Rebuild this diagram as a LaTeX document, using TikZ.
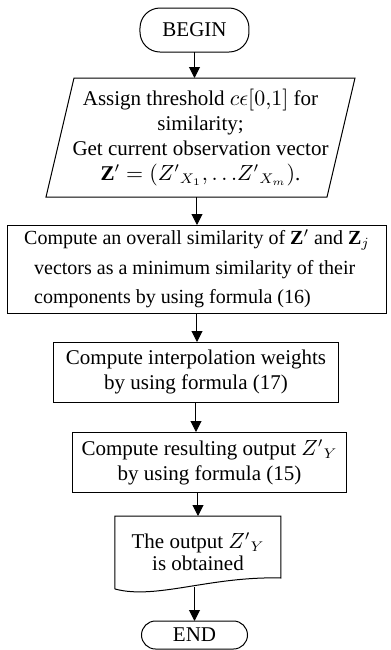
\documentclass[tikz,border=0pt]{standalone}
\usepackage{amsmath, amssymb}
\usepackage{fontspec}
\setmainfont{Liberation Serif}
\usepackage{tikz}
\usetikzlibrary{arrows.meta, positioning}

\begin{document}
\begin{tikzpicture}[node distance=14pt, auto,
    font=\fontsize{10.5pt}{12.5pt}\selectfont,
    line width=0.5pt,
    terminal/.style={rectangle, rounded corners=10pt, draw, inner sep=0pt, outer sep=0pt},
    process/.style={rectangle, draw, inner sep=0pt, outer sep=0pt, align=center},
    textframe/.style={rectangle, inner sep=0pt, outer sep=0pt, align=center},
    arr/.style={-{Triangle[length=5.5pt, width=5.5pt]}}]
    \useasboundingbox (0,0) rectangle (195.5pt,-325pt);
    \clip (0,0) rectangle (195.5pt,-325pt);

    \node (Start) [terminal, minimum width=54.5pt, minimum height=22pt] at (97.25pt,-15pt) {BEGIN};

    % input data (parallelogram drawn around the text frame)
    \node (InputData) [textframe, below=13pt of Start, xshift=3pt, minimum width=140.5pt, minimum height=59.5pt]
        {Assign threshold $c\epsilon[0{,}1]$ for\\ similarity;\\ Get current observation vector\\ $\mathbf{Z}'=\left(Z'{}_{X_1},{\ldots}Z'{}_{X_m}\right)$.};
    \draw ([xshift=7pt]InputData.north west) -- ([xshift=7pt]InputData.north east)
        -- ([xshift=-7pt]InputData.south east) -- ([xshift=-7pt]InputData.south west) -- cycle;

    \node (Similarity) [process, below=14pt of InputData, xshift=-1.75pt, minimum width=190pt, minimum height=44pt, align=left,
        font=\fontsize{10pt}{14.75pt}\selectfont]
        {Compute an overall similarity of $\mathbf{Z}'$ and $\mathbf{Z}_j$\\
        \hspace*{5pt}vectors as a minimum similarity of their\\
        \hspace*{5pt}components by using formula (16)};
    \draw[arr] (Similarity.north |- InputData.south) -- (Similarity.north);

    \node (Weights) [process, below=14.5pt of Similarity, xshift=-0.5pt, minimum width=143pt, minimum height=30pt]
        {Compute interpolation weights\\ by using formula (17)};
    \draw[arr] (Similarity.south) -- (Similarity.south |- Weights.north);

    \node (Output) [process, below=15pt of Weights, xshift=6.75pt, minimum width=137.5pt, minimum height=30pt]
        {Compute resulting output $Z'{}_Y$\\ by using formula (15)};
    \draw[arr] (Weights.south) -- (Weights.south |- Output.north);

    % document shape with wavy bottom
    \node (Result) [textframe, below=12pt of Output, xshift=-5.75pt, minimum width=83pt, minimum height=35.5pt,
        font=\fontsize{10.5pt}{11pt}\selectfont]
        {The output $Z'{}_Y$\\ is obtained};
    \draw ([yshift=-1pt]Result.south west) -- (Result.north west) -- (Result.north east)
        -- ([yshift=4.5pt]Result.south east) .. controls +(-35.5pt,1pt) and +(20.5pt,-5.5pt) .. ([yshift=-1pt]Result.south west);
    \draw[arr] (Result.north |- Output.south) -- (Result.north);

    \node (Stop) [terminal, below=17pt of Result, xshift=-1.75pt, minimum width=53pt, minimum height=14pt, rounded corners=7pt] {END};
    \draw[arr] (Stop.north |- Result.south) -- (Stop.north);

    \draw[arr] (Start.south) -- (Start.south |- InputData.north);
\end{tikzpicture}
\end{document}
